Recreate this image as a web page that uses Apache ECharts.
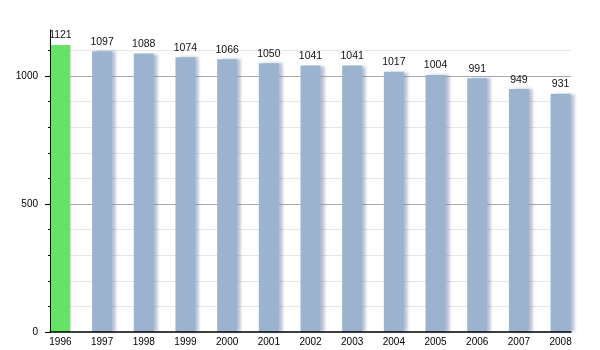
<!DOCTYPE html>
<html>
<head>
<meta charset="utf-8">
<script src="https://cdn.jsdelivr.net/npm/echarts@6/dist/echarts.min.js"></script>
<style>html,body{margin:0;padding:0;background:#fff}#c{width:600px;height:350px}</style>
</head>
<body>
<div id="c"></div>
<script>
const years = ['1996','1997','1998','1999','2000','2001','2002','2003','2004','2005','2006','2007','2008'];
const values = [1121,1097,1088,1074,1066,1050,1041,1041,1017,1004,991,949,931];
const majorTicks = [0,500,1000];
const minorTicks = [0,100,200,300,400,500,600,700,800,900,1000,1100];

const chart = echarts.init(document.getElementById('c'), null, {renderer:'canvas'});
const font = 'Liberation Sans, Arial, sans-serif';
const data = values.map((v,i)=>({
  value:[i,v],
  itemStyle: i===0 ? {color:'#66e366', shadowBlur:0, shadowOffsetX:0, shadowColor:'transparent'} : {}
}));
const light = '#e6e6e6', dark = '#aaaaaa';
chart.setOption({
  animation:false,
  grid:{left:50,right:29,top:30,bottom:18,containLabel:false},
  xAxis:{
    type:'value', min:-0.25, max:12.25, z:5,
    axisLine:{show:true,onZero:false,lineStyle:{color:'#000',width:1.5}},
    axisTick:{show:false},
    splitLine:{show:false},
    axisLabel:{customValues:years.map((y,i)=>i),formatter:v=>years[Math.round(v)],
      fontSize:10,color:'#000',fontFamily:font,margin:5}
  },
  yAxis:[{
    type:'value', min:0, max:1180, interval:100,
    axisLine:{show:false,onZero:false},
    axisTick:{show:false},
    axisLabel:{customValues:majorTicks,formatter:v=>String(v),fontSize:10,color:'#000',fontFamily:font,margin:12},
    splitLine:{show:true,lineStyle:{width:1,color:['transparent',light,light,light,light,dark,light,light,light,light,dark,light,'transparent']}}
  },{
    type:'value', min:0, max:1180, position:'left', z:5,
    axisLine:{show:true,onZero:false,lineStyle:{color:'#000',width:1}},
    axisTick:{show:true,customValues:minorTicks,length:2,lineStyle:{color:'#000'}},
    axisLabel:{show:false},
    splitLine:{show:false}
  },{
    type:'value', min:0, max:1180, position:'left', z:5,
    axisLine:{show:false,onZero:false},
    axisTick:{show:true,customValues:majorTicks,length:5,lineStyle:{color:'#000'}},
    axisLabel:{show:false},
    splitLine:{show:false}
  }],
  series:[{
    type:'bar', yAxisIndex:0, barWidth:20,
    data:data,
    itemStyle:{color:'#9bb3cf',shadowColor:'rgba(110,130,170,0.5)',shadowBlur:3,shadowOffsetX:4,shadowOffsetY:0},
    label:{show:true,position:'top',distance:4,fontSize:10.5,color:'#111',fontFamily:font}
  }]
});
</script>
</body>
</html>
